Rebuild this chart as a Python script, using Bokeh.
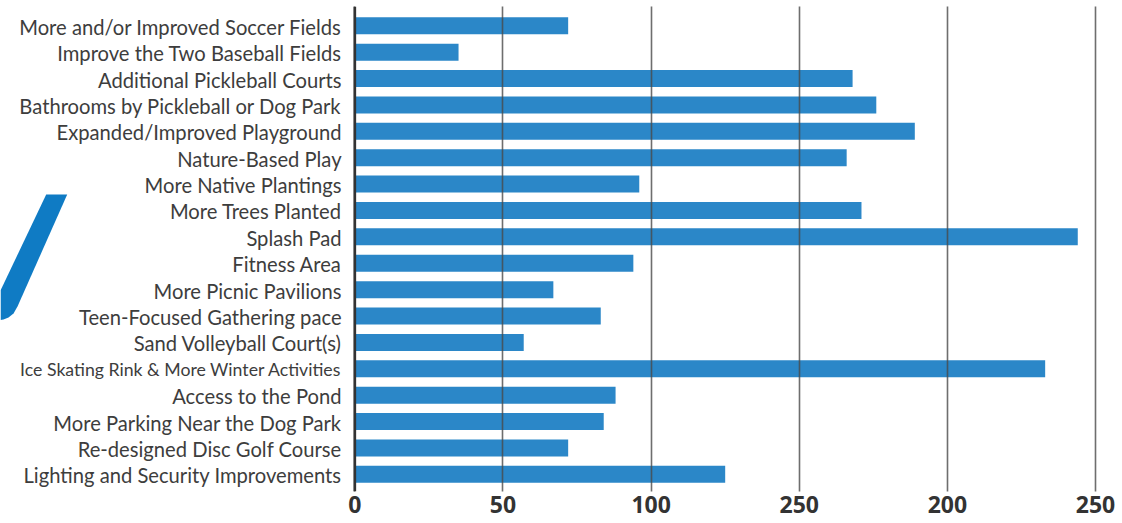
from bokeh.plotting import figure
from bokeh.models import Range1d, FixedTicker, Span, PolyAnnotation, ColumnDataSource
from bokeh.core.properties import value
from bokeh.embed import file_html
from bokeh.resources import INLINE

categories = [
    "More and/or Improved Soccer Fields",
    "Improve the Two Baseball Fields",
    "Additional Pickleball Courts",
    "Bathrooms by Pickleball or Dog Park",
    "Expanded/Improved Playground",
    "Nature-Based Play",
    "More Native Plantings",
    "More Trees Planted",
    "Splash Pad",
    "Fitness Area",
    "More Picnic Pavilions",
    "Teen-Focused Gathering pace",
    "Sand Volleyball Court(s)",
    "Ice Skating Rink & More Winter Activities",
    "Access to the Pond",
    "More Parking Near the Dog Park",
    "Re-designed Disc Golf Course",
    "Lighting and Security Improvements",
]
votes = [72, 35, 168, 176, 189, 166, 96, 171, 244, 94, 67, 83, 57, 233, 88, 84, 72, 125]
tick_values = [0, 50, 100, 150, 200, 250]
tick_labels = ["0", "50", "100", "250", "200", "250"]

BAR = "#2b87c8"
LABEL_FONT = "Lato"
BASE_SIZE = 20.2
MAX_CHARS = 36

rows = list(range(len(categories)))
sizes = ["%.1fpx" % (BASE_SIZE if len(c) <= MAX_CHARS else BASE_SIZE * MAX_CHARS / len(c)) for c in categories]
src = ColumnDataSource(dict(y=rows, v=votes, label=categories, size=sizes, x0=[0] * len(rows)))

p = figure(width=1122, height=523,
           x_range=Range1d(-119.6, 259.1), y_range=Range1d(17.65, -0.73),
           output_backend="svg", toolbar_location=None,
           min_border_left=0, min_border_right=0, min_border_top=6, min_border_bottom=32)
p.outline_line_color = None
p.background_fill_color = "white"
p.border_fill_color = "white"

p.hbar(y="y", left=0, right="v", height=0.645, source=src, fill_color=BAR, line_color=None)

p.text(x="x0", y="y", text="label", source=src, x_offset=-13.3, y_offset=1,
       text_align="right", text_baseline="middle",
       text_font=value(LABEL_FONT), text_font_size="size", text_color="#3d3d3d")

# decorative slash on the left
p.add_layout(PolyAnnotation(
    xs=[45.7, 66.7, 17, 13, 8, 3, 0, 0],
    ys=[194, 194, 306, 313, 317, 319, 319.5, 290],
    xs_units="canvas", ys_units="canvas",
    fill_color="#0f7bc4", fill_alpha=1.0, line_color=None))

p.yaxis.visible = False
p.ygrid.grid_line_color = None

p.xgrid.ticker = FixedTicker(ticks=tick_values)
p.xgrid.grid_line_color = "#4a4a4a"
p.xgrid.grid_line_alpha = 0.8
p.xgrid.grid_line_width = 1.6
p.xgrid.level = "annotation"

p.add_layout(Span(location=0, dimension="height", line_color="#333333", line_width=2.6))

ax = p.xaxis[0]
ax.ticker = FixedTicker(ticks=tick_values)
ax.major_label_overrides = {t: l for t, l in zip(tick_values, tick_labels)}
ax.axis_line_color = None
ax.major_tick_line_color = None
ax.minor_tick_line_color = None
ax.major_tick_out = 0
ax.major_tick_in = 0
ax.major_label_standoff = 4
ax.major_label_text_font = "Open Sans"
ax.major_label_text_font_style = "bold"
ax.major_label_text_font_size = "23px"
ax.major_label_text_color = "#333333"

open("out.html", "w").write(file_html(p, INLINE))
